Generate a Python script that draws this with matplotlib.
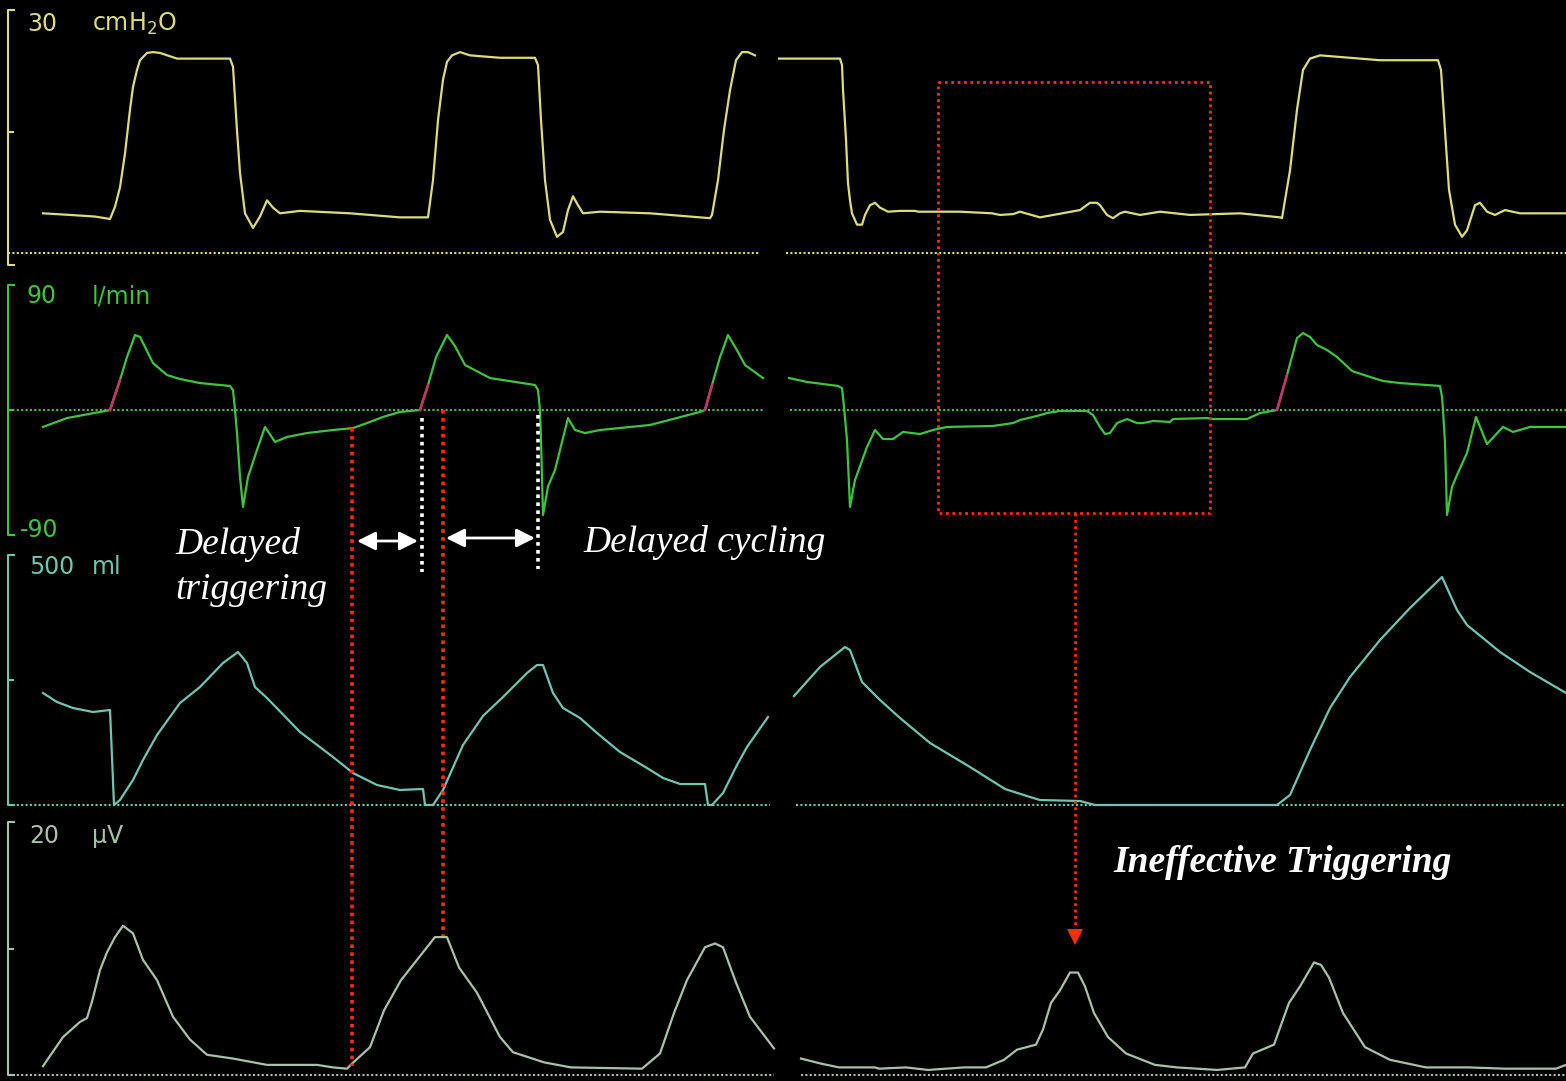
import matplotlib
matplotlib.use('Agg')
import matplotlib.pyplot as plt
import numpy as np

W, H = 1566, 1081
SWEEP_EDGE = 776  # where the monitor sweep restarts (trace gap)

# ---- airway pressure, cmH2O ----
pressure_t = [43, 70, 95, 110, 115, 120, 125, 130, 133, 137, 140, 147, 153, 160, 177, 230, 233, 237, 240, 245,
              253, 260, 267, 273, 280, 300, 350, 400, 425, 428, 433, 438, 443, 447, 452, 460, 470, 500, 535, 538,
              541, 545, 550, 557, 563, 568, 573, 578, 583, 600, 650, 710, 712, 718, 724, 730, 736, 742, 748, 755,
              779, 840, 842, 843, 846, 848, 850, 852, 857, 862, 865, 870, 875, 880, 888, 900, 915, 918, 960, 992,
              1000, 1013, 1020, 1040, 1080, 1090, 1097, 1100, 1107, 1113, 1120, 1125, 1140, 1160, 1190, 1240, 1280,
              1282, 1290, 1297, 1303, 1310, 1320, 1340, 1380, 1438, 1441, 1445, 1449, 1455, 1462, 1467, 1475, 1480,
              1487, 1495, 1505, 1520, 1566]
pressure = [4.9, 4.7, 4.5, 4.2, 5.7, 8.1, 12.3, 17.7, 20.5, 22.6, 23.8, 24.7, 24.8, 24.7, 24.0, 24.0, 23.0, 15.1, 9.9, 4.9,
            3.1, 4.5, 6.5, 5.6, 4.9, 5.2, 4.9, 4.4, 4.4, 4.4, 9.0, 16.4, 21.4, 23.6, 24.4, 24.8, 24.4, 24.1, 24.1, 23.2,
            16.4, 9.0, 4.1, 2.0, 2.6, 5.3, 7.0, 5.9, 4.9, 5.1, 4.9, 4.3, 4.7, 9.0, 15.2, 20.1, 23.8, 24.8, 24.8, 24.4,
            24.0, 24.0, 23.2, 20.2, 14.0, 8.6, 6.5, 4.9, 3.5, 3.5, 4.7, 5.9, 6.2, 5.6, 5.1, 5.2, 5.2, 5.1, 5.1, 4.9,
            4.7, 4.8, 5.1, 4.4, 5.3, 6.2, 6.2, 5.9, 4.7, 4.3, 4.9, 5.1, 4.7, 5.1, 4.7, 4.9, 4.4,
            4.3, 10.2, 17.7, 22.6, 24.0, 24.4, 24.2, 23.8, 23.8, 22.6, 15.1, 7.8, 3.5, 2.0, 2.8, 5.9, 6.2,
            5.1, 4.7, 5.3, 4.9, 4.9]

# ---- flow, l/min ----
flow_t = [43, 67, 100, 110, 120, 127, 135, 140, 153, 167, 180, 200, 230, 233, 235, 237, 240, 243, 248, 257,
          265, 275, 287, 307, 333, 353, 367, 383, 400, 420, 428, 436, 447, 455, 465, 490, 535, 538, 540, 541,
          543, 548, 555, 568, 575, 585, 600, 650, 700, 705, 712, 720, 728, 737, 745, 763,
          789, 807, 838, 842, 844, 847, 850, 855, 867, 875, 883, 893, 903, 920, 933, 947, 993, 1013, 1020, 1037,
          1047, 1060, 1087, 1093, 1100, 1105, 1110, 1117, 1127, 1137, 1143, 1153, 1170, 1173, 1207, 1213, 1247,
          1260, 1277, 1287, 1297, 1303, 1310, 1317, 1327, 1337, 1352, 1367, 1383, 1400, 1440, 1442, 1443, 1445,
          1447, 1452, 1457, 1467, 1476, 1487, 1503, 1513, 1530, 1566]
flow = [-12.2, -5.8, -1.4, 0.0, 21.6, 38.2, 54.0, 52.6, 33.8, 25.2, 22.3, 19.4, 17.3, 14.4, 0.0, -16.6, -48.2, -69.8, -48.2, -28.8,
        -12.2, -23.0, -19.4, -16.6, -14.4, -13.0, -9.4, -5.0, -1.4, 0.0, 18.0, 38.0, 54.0, 46.0, 32.4, 23.0, 18.0, 14.4, 0.0, -21.6,
        -75.6, -55.0, -43.2, -5.8, -14.4, -16.6, -14.4, -10.8, -1.4, 0.0, 18.0, 38.0, 54.0, 43.0, 32.4, 23.0,
        23.0, 20.2, 17.3, 15.8, 2.2, -21.6, -69.8, -50.4, -26.6, -14.4, -20.9, -20.9, -15.8, -17.3, -14.4, -12.2, -11.5, -9.4, -7.2, -4.3,
        -2.2, -0.7, -0.7, -3.6, -12.2, -17.3, -16.6, -9.4, -6.5, -9.4, -9.4, -7.9, -8.6, -6.5, -5.8, -6.5, -6.5,
        -2.2, 0.0, 25.2, 51.8, 55.4, 52.6, 46.8, 43.2, 38.2, 28.1, 24.5, 20.9, 19.4, 17.3, 9.4, 0.0, -23.8,
        -75.6, -55.4, -46.8, -30.9, -5.0, -24.5, -12.2, -15.8, -12.2, -12.2]
trigger_on = [110, 420, 705, 1277]
trigger_off = [120, 428, 712, 1287]

# ---- volume, ml ----
volume_t = [43, 57, 73, 93, 110, 112, 114, 120, 133, 143, 157, 180, 200, 223, 238, 247, 255, 267, 300, 333,
            353, 377, 400, 423, 425, 433, 443, 463, 483, 503, 527, 537, 543, 553, 563, 580, 597, 620, 647, 663,
            680, 705, 708, 712, 723, 737, 747, 768,
            794, 820, 845, 850, 862, 880, 900, 930, 970, 1005, 1030, 1040, 1080, 1095, 1277, 1290, 1310, 1330,
            1350, 1380, 1410, 1442, 1457, 1467, 1500, 1530, 1566]
volume = [224, 206, 194, 186, 190, 96, 0, 10, 50, 90, 140, 204, 236, 284, 306, 284, 236, 214, 146, 96,
          64, 40, 30, 32, 0, 0, 30, 120, 178, 216, 264, 280, 280, 224, 194, 174, 144, 106, 74, 54,
          42, 42, 0, 0, 24, 80, 116, 176,
          218, 276, 316, 310, 246, 210, 174, 124, 76, 32, 16, 10, 8, 0, 0, 20, 110, 194,
          256, 330, 394, 456, 390, 360, 306, 266, 224]

# ---- diaphragm EMG, µV ----
emg_t = [43, 63, 80, 87, 92, 100, 107, 115, 123, 133, 143, 157, 173, 190, 207, 233, 267, 317, 333, 347,
         352, 370, 384, 401, 419, 435, 447, 459, 477, 500, 513, 544, 571, 642, 660, 674, 687, 705, 715, 723,
         736, 750, 774,
         801, 821, 839, 875, 879, 906, 928, 964, 986, 1004, 1017, 1036, 1043, 1051, 1060, 1070, 1078, 1085,
         1094, 1108, 1126, 1155, 1177, 1217, 1245, 1253, 1274, 1289, 1300, 1314, 1321, 1329, 1343, 1365, 1390,
         1426, 1469, 1505, 1556, 1566]
emg = [0.7, 3.0, 4.2, 4.5, 5.8, 8.3, 9.7, 10.9, 11.8, 11.2, 9.1, 7.5, 4.6, 2.8, 1.6, 1.3, 0.8, 0.8, 0.6, 0.5,
       0.9, 2.2, 5.1, 7.5, 9.3, 10.9, 10.9, 8.5, 6.5, 3.0, 1.8, 1.0, 0.6, 0.5, 1.7, 4.9, 7.5, 10.1, 10.4, 10.1,
       7.3, 4.6, 2.1,
       1.3, 0.9, 0.6, 0.6, 0.5, 0.6, 0.4, 0.6, 0.6, 1.2, 2.0, 2.4, 3.6, 5.7, 6.7, 8.1, 8.1, 7.0,
       4.9, 3.0, 1.7, 0.8, 0.6, 0.4, 0.6, 1.7, 2.4, 5.7, 7.0, 8.9, 8.7, 7.7, 4.9, 2.2, 1.2,
       0.6, 0.6, 0.5, 0.5, 0.8]

P_COL = '#dcdc78'
F_COL = '#3ec43e'
TRIG_COL = '#c8306e'
V_COL = '#6ec6b2'
E_COL = '#a6c2aa'
RED = '#ff2c10'


def with_gap(t, v, edge=SWEEP_EDGE):
    t = list(t)
    v = list(v)
    for i in range(len(t) - 1):
        if t[i] < edge < t[i + 1]:
            return t[:i + 1] + [np.nan] + t[i + 1:], v[:i + 1] + [np.nan] + v[i + 1:]
    return t, v


fig = plt.figure(figsize=(W / 100, H / 100), dpi=100, facecolor='black')


def panel(zero_px, full_px, full_val):
    # each trace gets its own axes over the whole figure, scaled like the monitor channel
    ax = fig.add_axes([0, 0, 1, 1])
    k = full_val / (zero_px - full_px)
    ax.set_xlim(0, W)
    ax.set_ylim(k * (zero_px - H), k * zero_px)
    ax.axis('off')
    ax.patch.set_alpha(0)
    return ax


def bracket(ax, lo, mid, hi, col, gap):
    ax.plot([15, 8, 8, 15], [hi, hi, lo, lo], color=col, lw=1.5, solid_capstyle='butt')
    ax.plot([8, 13], [mid, mid], color=col, lw=1.5)
    ax.plot([8, gap[0]], [0, 0], color=col, lw=1.5, ls=(0, (1, 1.1)))
    ax.plot([gap[1], W], [0, 0], color=col, lw=1.5, ls=(0, (1, 1.1)))


ax_p = panel(253, 10, 30)
ax_f = panel(410, 285, 90)
ax_v = panel(805, 555, 500)
ax_e = panel(1075, 822, 20)

bracket(ax_p, -1.5, 15, 30, P_COL, (759, 786))
bracket(ax_f, -90, 0, 90, F_COL, (764, 790))
bracket(ax_v, 0, 250, 500, V_COL, (770, 796))
bracket(ax_e, 0, 10, 20, E_COL, (774, 801))

ax_p.plot(*with_gap(pressure_t, pressure), color=P_COL, lw=1.6)
ax_f.plot(*with_gap(flow_t, flow), color=F_COL, lw=1.6)
ft = np.array(flow_t)
fv = np.array(flow)
for on, off in zip(trigger_on, trigger_off):
    m = (ft >= on) & (ft <= off)
    ax_f.plot(ft[m], fv[m], color=TRIG_COL, lw=1.8)
ax_v.plot(*with_gap(volume_t, volume), color=V_COL, lw=1.6)
ax_e.plot(*with_gap(emg_t, emg), color=E_COL, lw=1.6)

# overlay in screen pixels for labels and annotations
ov = fig.add_axes([0, 0, 1, 1])
ov.set_xlim(0, W)
ov.set_ylim(H, 0)
ov.axis('off')
ov.patch.set_alpha(0)

lab = dict(fontsize=17, va='center', ha='left', family='DejaVu Sans')
ov.text(27, 24, '30', color=P_COL, **lab)
ov.text(92, 24, r'cmH$_2$O', color=P_COL, **lab)
ov.text(27, 296, '90', color=F_COL, **lab)
ov.text(92, 296, 'l/min', color=F_COL, **lab)
ov.text(20, 530, '-90', color=F_COL, **lab)
ov.text(29, 567, '500', color=V_COL, **lab)
ov.text(92, 567, 'ml', color=V_COL, **lab)
ov.text(29, 836, '20', color=E_COL, **lab)
ov.text(92, 836, 'µV', color=E_COL, **lab)

dots = dict(lw=2.6, ls=(0, (1, 1.2)), dash_capstyle='butt')
ov.plot([352, 352], [428, 1066], color=RED, **dots)
ov.plot([443, 443], [410, 936], color=RED, **dots)
ov.plot([422, 422], [418, 572], color='white', **dots)
ov.plot([538, 538], [415, 569], color='white', **dots)

arr = dict(arrowstyle='<|-|>', color='white', lw=2, mutation_scale=28, shrinkA=0, shrinkB=0)
ov.annotate('', xy=(418, 541), xytext=(357, 541), arrowprops=arr)
ov.annotate('', xy=(535, 538), xytext=(446, 538), arrowprops=arr)

serif = dict(color='white', family='Liberation Serif', style='italic', fontsize=27)
ov.text(175, 545, 'Delayed', va='center', ha='left', **serif)
ov.text(175, 590, 'triggering', va='center', ha='left', **serif)
ov.text(583, 542, 'Delayed cycling', va='center', ha='left', **serif)
ov.text(1113, 862, 'Ineffective Triggering', va='center', ha='left', weight='bold', **serif)

box = dict(lw=2.0, ls=(0, (1, 1.3)), dash_capstyle='butt', color=RED)
ov.plot([938, 1210, 1210, 938, 938], [82, 82, 513, 513, 82], **box)
ov.plot([1075, 1075], [513, 930], **box)
ov.plot([1075], [937], marker='v', markersize=12, color=RED, markeredgewidth=0)

fig.savefig('out.png', dpi=100, facecolor='black')
